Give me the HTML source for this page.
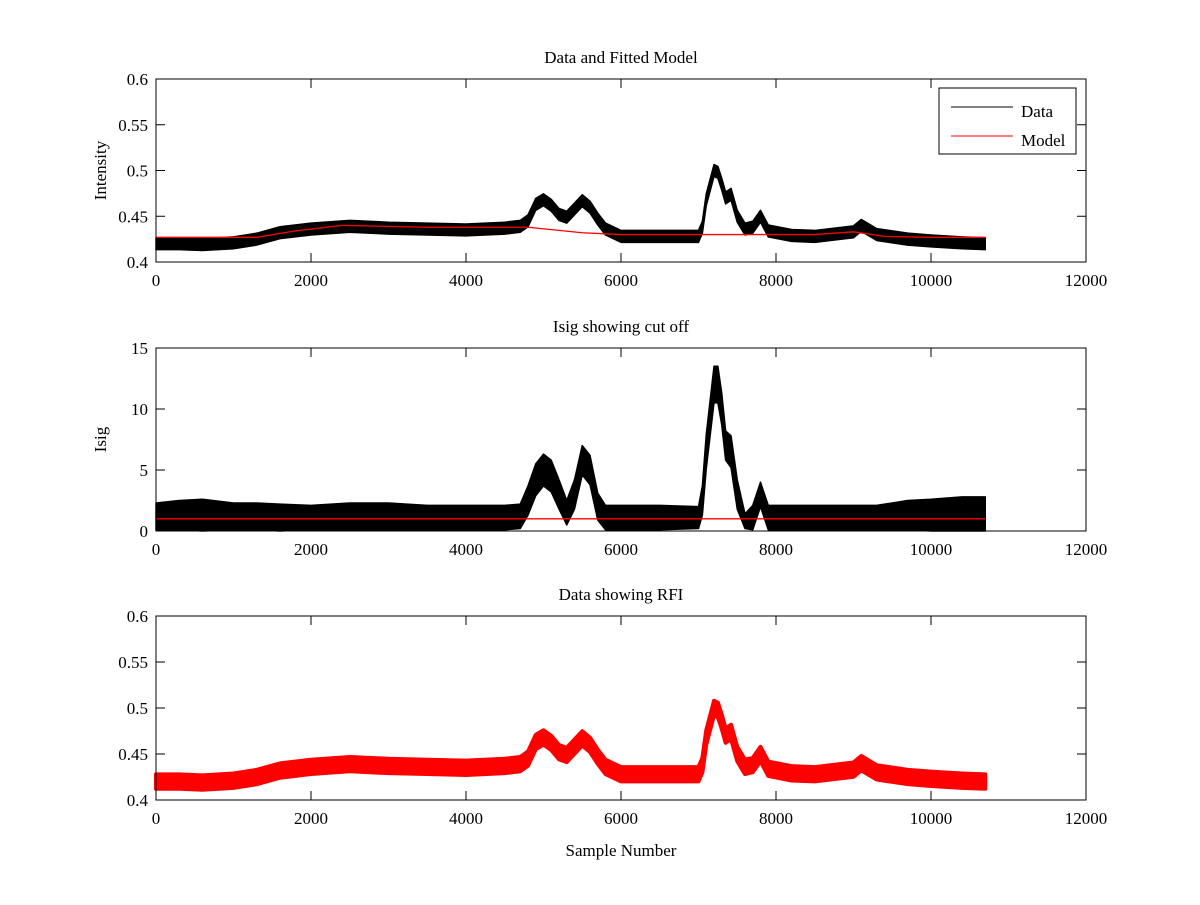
<!DOCTYPE html>
<html><head><meta charset="utf-8"><style>
body{margin:0;background:#fff}
svg text{font-family:"Liberation Serif",serif;font-size:17px;fill:#000}
</style></head><body>
<svg id="fig" width="1200" height="900" xmlns="http://www.w3.org/2000/svg"></svg>
<script>
const xs=[0,300,600,1000,1300,1600,2000,2500,3000,3500,4000,4500,4700,4800,4900,5000,5100,5200,5300,5400,5500,5600,5700,5800,6000,6500,7000,7050,7100,7200,7250,7300,7350,7420,7500,7600,7700,7800,7900,8200,8500,9000,9100,9300,9700,10000,10400,10700];
const intensity=[.42,.42,.419,.421,.425,.432,.436,.439,.437,.436,.435,.437,.439,.445,.463,.468,.462,.452,.449,.458,.467,.46,.447,.436,.428,.428,.428,.438,.468,.5,.498,.485,.47,.474,.45,.436,.438,.45,.434,.429,.428,.433,.44,.43,.425,.423,.421,.42];
const isigCenter=[1.2,1.3,1.3,1.2,1.2,1.1,1.1,1.2,1.2,1.1,1.1,1.1,1.2,2.5,4.2,5,4.5,3,1.5,3,5.8,5,2,1.1,1.1,1.1,1.1,2.5,6.5,12,12,10,7,6.5,3,0.8,1.1,3,1.1,1.1,1.1,1.1,1.1,1.1,1.3,1.3,1.4,1.4];
const isigSpread=[1.1,1.2,1.3,1.1,1.1,1.1,1.0,1.1,1.1,1.0,1.0,1.0,1.0,1.2,1.3,1.3,1.3,1.2,1.0,1.2,1.2,1.2,1.1,1.0,1.0,1.0,0.9,1.2,1.4,1.5,1.5,1.3,1.2,1.3,1.2,0.6,1.0,1.0,1.0,1.0,1.0,1.0,1.0,1.0,1.2,1.3,1.4,1.4];
const modelX=[0,1300,1800,2400,3500,4800,5500,6000,7500,8500,9000,9400,10000,10700];
const modelY=[.427,.427,.434,.44,.438,.438,.432,.43,.43,.43,.433,.428,.427,.427];
const isigCut=1.0;
const xTicks=[0,2000,4000,6000,8000,10000,12000];
const intTicks=[0.4,0.45,0.5,0.55,0.6];
const isigTicks=[0,5,10,15];
const noise=0.0065;

const NS="http://www.w3.org/2000/svg", svg=document.getElementById('fig');
function el(t,a,p){const e=document.createElementNS(NS,t);for(const k in a)e.setAttribute(k,a[k]);(p||svg).appendChild(e);return e;}
const X0=156,X1=1086;
const sx=v=>X0+(v-0)/12000*(X1-X0);
function axes(top,bot,ymin,ymax,yt,fmt,title,ylabel,name){
  const g=el('g',{});
  
  
  const sy=v=>bot-(v-ymin)/(ymax-ymin)*(bot-top);
  el('rect',{x:X0,y:top,width:X1-X0,height:bot-top,fill:'#fff',stroke:'none'},g);
  return {g,sy,finish(){
    el('rect',{x:X0,y:top,width:X1-X0,height:bot-top,fill:'none',stroke:'#000','stroke-width':1},g);
    xTicks.forEach(t=>{const x=sx(t);
      el('line',{x1:x,x2:x,y1:bot,y2:bot-9,stroke:'#000'},g);el('line',{x1:x,x2:x,y1:top,y2:top+9,stroke:'#000'},g);
      const tx=el('text',{x:x,y:bot+24,'text-anchor':'middle'},g);tx.textContent=t;
      
      });
    yt.forEach(t=>{const y=sy(t);
      el('line',{x1:X0,x2:X0+9,y1:y,y2:y,stroke:'#000'},g);el('line',{x1:X1,x2:X1-9,y1:y,y2:y,stroke:'#000'},g);
      const tx=el('text',{x:X0-8,y:y+6,'text-anchor':'end'},g);tx.textContent=fmt(t);
      
      });
    const tt=el('text',{x:(X0+X1)/2,y:top-16,'text-anchor':'middle'},g);tt.textContent=title;
    
    
    const yl=el('text',{x:0,y:0,'text-anchor':'middle',transform:`translate(${X0-50},${(top+bot)/2}) rotate(-90)`},g);yl.textContent=ylabel;
    
    
  }};
}
function band(g,sy,cen,spr,fill,lo0){
  let up=xs.map((x,i)=>sx(x)+','+sy(cen[i]+spr[i]));
  let dn=xs.map((x,i)=>sx(x)+','+sy(Math.max(lo0,cen[i]-spr[i]))).reverse();
  return el('polygon',{points:up.concat(dn).join(' '),fill:fill,stroke:fill,'stroke-width':1.5,'stroke-linejoin':'round'},g);
}
function line(g,xa,ya,sy,col,w){return el('polyline',{points:xa.map((x,i)=>sx(x)+','+sy(ya[i])).join(' '),fill:'none',stroke:col,'stroke-width':w},g);}
const fmtI=v=>String(+v.toFixed(2));

const a1=axes(79,262,0.4,0.6,intTicks,fmtI,'Data and Fitted Model','Intensity','intensity-axes');
const b1=band(a1.g,a1.sy,intensity,intensity.map(()=>noise),'#000',0);


const m1=line(a1.g,modelX,modelY,a1.sy,'#f00',1.3);


a1.finish();
const lg=el('g',{},a1.g);


el('rect',{x:939,y:88,width:137,height:66,fill:'#fff',stroke:'#000'},lg);
el('line',{x1:951,x2:1013,y1:107,y2:107,stroke:'#000'},lg);
el('line',{x1:951,x2:1013,y1:136,y2:136,stroke:'#f00'},lg);
let t=el('text',{x:1021,y:117},lg);t.textContent='Data';
t=el('text',{x:1021,y:146},lg);t.textContent='Model';

const a2=axes(348,531,0,15,isigTicks,v=>v,'Isig showing cut off','Isig','isig-axes');
const b2=band(a2.g,a2.sy,isigCenter,isigSpread,'#000',0);


const c2=el('line',{x1:sx(0),x2:sx(10700),y1:a2.sy(isigCut),y2:a2.sy(isigCut),stroke:'#f00','stroke-width':1.3},a2.g);


a2.finish();

const a3=axes(616,800,0.4,0.6,intTicks,fmtI,'Data showing RFI','','rfi-axes');
const b3=band(a3.g,a3.sy,intensity,intensity.map(()=>noise*1.2),'#f00',0);
b3.setAttribute('stroke-width','4');


a3.finish();
const xl=el('text',{x:(X0+X1)/2,y:856,'text-anchor':'middle'});xl.textContent='Sample Number';


</script>
</body></html>
